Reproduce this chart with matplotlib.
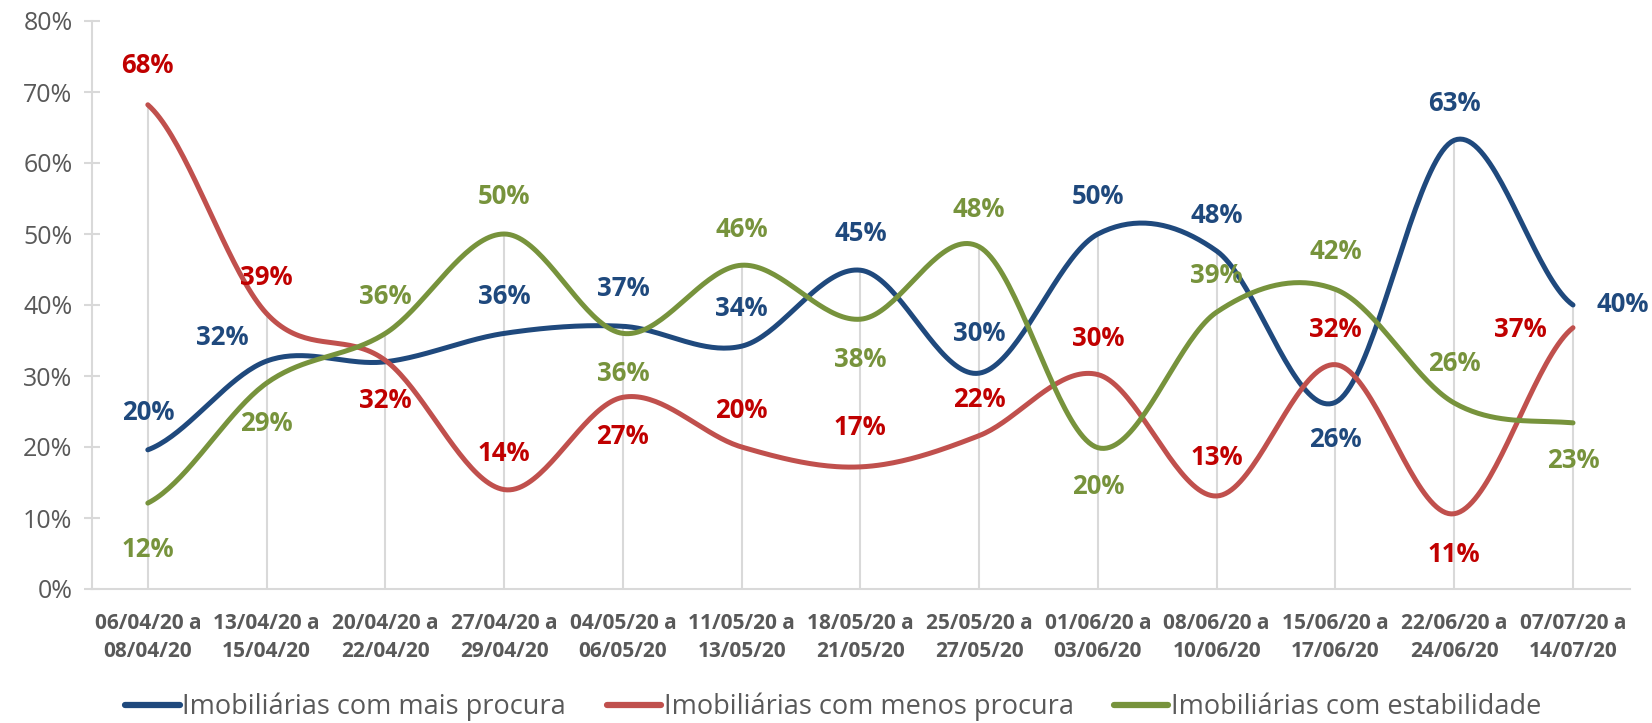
from matplotlib import pyplot as plt
import numpy as np

# categories (weekly survey windows)
periods = ['06/04/20 a\n08/04/20', '13/04/20 a\n15/04/20', '20/04/20 a\n22/04/20',
           '27/04/20 a\n29/04/20', '04/05/20 a\n06/05/20', '11/05/20 a\n13/05/20',
           '18/05/20 a\n21/05/20', '25/05/20 a\n27/05/20', '01/06/20 a\n03/06/20',
           '08/06/20 a\n10/06/20', '15/06/20 a\n17/06/20', '22/06/20 a\n24/06/20',
           '07/07/20 a\n14/07/20']

# values in %
mais_procura = [19.6, 32.1, 32.0, 36.0, 37.0, 34.2, 44.9, 30.4, 50.0, 47.6, 26.3, 63.2, 40.0]
menos_procura = [68.2, 38.8, 32.2, 14.0, 27.0, 20.0, 17.2, 21.6, 30.2, 13.1, 31.6, 10.6, 36.8]
estabilidade = [12.1, 29.0, 36.0, 50.0, 36.0, 45.6, 38.0, 48.2, 19.9, 39.0, 42.2, 26.2, 23.4]

series_names = ['Imobiliárias com mais procura', 'Imobiliárias com menos procura',
                'Imobiliárias com estabilidade']

yticks = [0, 10, 20, 30, 40, 50, 60, 70, 80]

# label offsets in pixels (dx, dy), None = no label
off_mais = [(0, 37), (-44, 24), None, (0, 37), (0, 38), (0, 38), (0, 37), (0, 40),
            (0, 37), (0, 36), (0, -37), (0, 37), (50, 0)]
off_menos = [(0, 39), (0, 36), (0, -40), (0, 36), (0, -39), (0, 37), (0, 39), (0, 36),
             (0, 36), (0, 38), (0, 35), (0, -41), (-53, -2)]
off_estab = [(0, -46), (0, -40), (0, 37), (0, 37), (0, -40), (0, 36), (0, -40), (0, 37),
             (0, -39), (0, 37), (0, 38), (0, 39), (0, -38)]

line_colors = ['#1F497D', '#C0504D', '#77933C']
label_colors = ['#1F497D', '#C00000', '#77933C']
gray = '#595959'
light = '#D9D9D9'


def smooth(y, n=40):
    # catmull-rom through the points, like excel's smoothed line
    y = np.asarray(y, float)
    p = np.concatenate([[y[0]], y, [y[-1]]])
    xs = []
    ys = []
    t = np.linspace(0, 1, n, endpoint=False)
    for i in range(len(y) - 1):
        p0, p1, p2, p3 = p[i], p[i + 1], p[i + 2], p[i + 3]
        m1 = (p2 - p0) / 2
        m2 = (p3 - p1) / 2
        h00 = 2 * t**3 - 3 * t**2 + 1
        h10 = t**3 - 2 * t**2 + t
        h01 = -2 * t**3 + 3 * t**2
        h11 = t**3 - t**2
        ys.append(h00 * p1 + h10 * m1 + h01 * p2 + h11 * m2)
        xs.append(i + t)
    xs.append([len(y) - 1])
    ys.append([y[-1]])
    return np.concatenate(xs), np.concatenate(ys)


plt.rcParams['font.family'] = ['Open Sans', 'DejaVu Sans']

fig = plt.figure(figsize=(16.52, 7.23), dpi=100)
ax = fig.add_axes([92 / 1652, (723 - 589) / 723, (1630 - 92) / 1652, (589 - 21) / 723])

x = np.arange(len(periods))
data = [mais_procura, menos_procura, estabilidade]
offsets = [off_mais, off_menos, off_estab]

# drop lines
tops = np.max(np.array(data), axis=0)
ax.vlines(x, 0, tops, color=light, lw=1.5, zorder=1)

handles = []
for vals, offs, lc, tc, name in zip(data, offsets, line_colors, label_colors, series_names):
    sx, sy = smooth(vals)
    h, = ax.plot(sx, sy, color=lc, lw=3.6, solid_capstyle='round', zorder=3, label=name)
    handles.append(h)
    for i, v in enumerate(vals):
        if offs[i] is None:
            continue
        ax.annotate('{:.0f}%'.format(v), (i, v), xytext=offs[i], textcoords='offset pixels',
                    ha='center', va='center', fontsize=18.5, fontweight='bold', color=tc,
                    zorder=4)

ax.set_xlim(-0.47, 12.48)
ax.set_ylim(0, 80)
ax.set_yticks(yticks)
ax.set_yticklabels(['{}%'.format(v) for v in yticks])
ax.set_xticks(x)
ax.set_xticklabels(periods, fontsize=15, fontweight='bold', color=gray, linespacing=1.45)

for s in ['top', 'right']:
    ax.spines[s].set_visible(False)
ax.spines['left'].set_color(light)
ax.spines['bottom'].set_color(light)
ax.spines['left'].set_linewidth(1.5)
ax.spines['bottom'].set_linewidth(1.5)

ax.tick_params(axis='y', direction='inout', length=12, width=1.5, color=light,
               labelsize=18, labelcolor=gray, pad=8)
ax.tick_params(axis='x', length=0, pad=17)

leg = fig.legend(handles=handles, loc='center', bbox_to_anchor=(0.5045, 0.022), ncol=3,
                 frameon=False, fontsize=19.5, labelcolor=gray, handlelength=2.0,
                 handletextpad=0.1, columnspacing=1.5)
for lh in leg.get_lines():
    lh.set_linewidth(4.5)

fig.savefig('out.png', dpi=100)
